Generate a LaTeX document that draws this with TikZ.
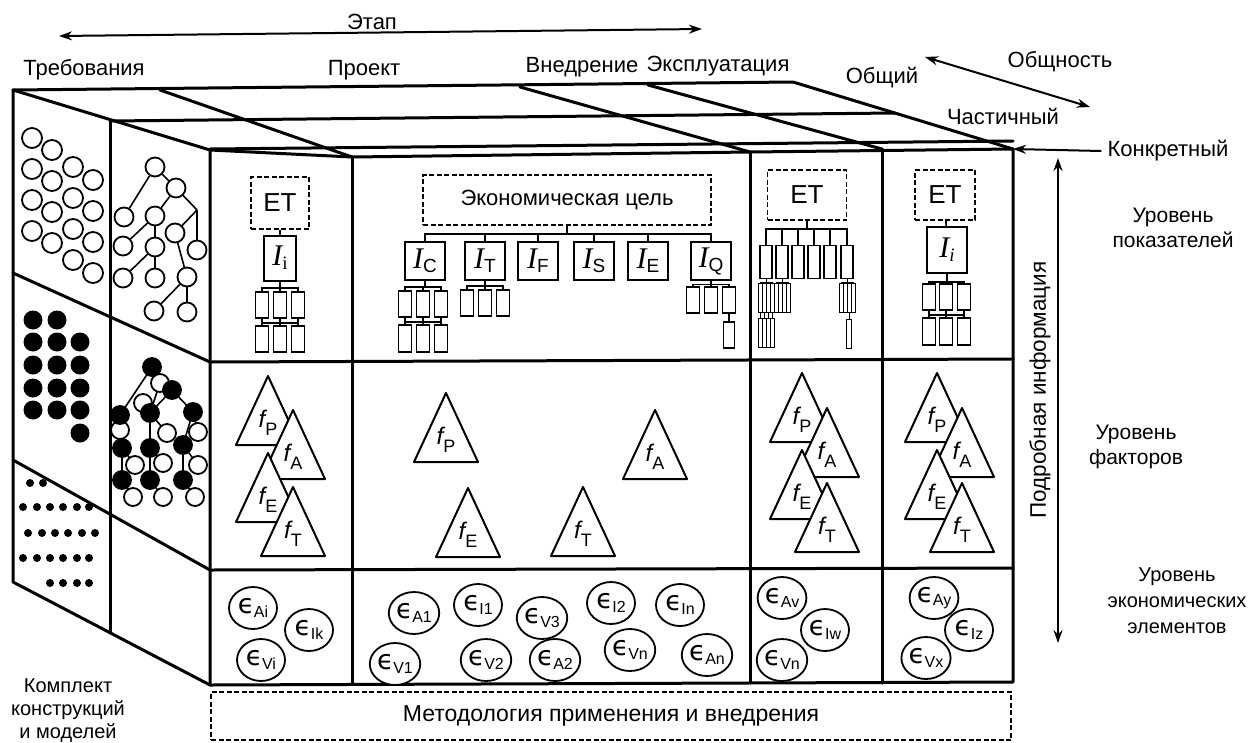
\documentclass[tikz,border=0pt]{standalone}
\usepackage{fontspec}
\setmainfont{Liberation Sans}
\newfontfamily\tms{Liberation Serif}
\newfontfamily\dvs{DejaVu Sans}
\usetikzlibrary{arrows.meta, positioning, shapes.geometric}

\newcommand{\indic}[1]{{\tms\itshape\fontsize{30}{30}\selectfont I}\raisebox{-0.75ex}{\fontsize{19}{19}\selectfont #1}}
\newcommand{\fsym}[1]{{\itshape f}\raisebox{-0.6ex}{\fontsize{18}{18}\selectfont #1}}
\newcommand{\esym}[1]{{\dvs\fontsize{27}{27}\selectfont ϵ}\kern-0.5pt\raisebox{-0.7ex}{\fontsize{16}{16}\selectfont #1}}

\begin{document}
\begin{tikzpicture}[
    x=1pt, y=-1pt,
    >={Stealth[length=13pt,width=9pt]},
    edge/.style={line width=3pt, line join=round, line cap=round},
    link/.style={line width=1.6pt},
    arr/.style={<->, line width=2pt},
    lab/.style={font=\fontsize{22}{25}\selectfont, align=center, inner sep=0pt},
    lvl/.style={lab, font=\fontsize{21}{25}\selectfont},
    dbox/.style={draw, dash pattern=on 5pt off 2.5pt, line width=1.5pt,
                 minimum height=50pt, inner sep=0pt, font=\fontsize{26}{26}\selectfont},
    ibox/.style={draw, line width=2pt, minimum width=40pt, minimum height=38pt, inner sep=0pt},
    leaf/.style={draw, line width=1.6pt, minimum width=13pt, minimum height=26pt, inner sep=0pt},
    bar/.style={draw, line width=1pt, minimum width=4pt, minimum height=29pt, inner sep=0pt},
    tri/.style={draw, fill=white, line width=2pt, line join=round},
    flab/.style={font=\fontsize{24}{24}\selectfont, inner sep=0pt},
    elem/.style={draw, fill=white, ellipse, line width=1.8pt, minimum width=48pt,
                 minimum height=42pt, inner sep=0pt},
    hole/.style={draw, fill=white, circle, line width=1.8pt, minimum size=19pt, inner sep=0pt},
    full/.style={hole, fill=black}
]
\useasboundingbox (0,0) rectangle (1249,742);

% top face
\draw[edge] (13,90) -- (793,82) -- (1013,149);
\draw[edge] (13,90) -- (210,150);
\draw[edge] (110,121) -- (895,113);
\draw[edge] (210,149) -- (1013,141);
\draw[edge] (160,90) -- (352,157);
\draw[edge] (520,87) -- (750,152);
\draw[edge] (648,85) -- (882,149);

% left face
\draw[edge] (13,90) -- (13,582) -- (210,685);
\draw[edge] (110,121) -- (110,633);
\draw[edge] (13,273) -- (210,362);
\draw[edge] (13,460) -- (210,570);

% front face
\draw[edge] (210,150) -- (352,157) -- (750,152) -- (1013,149) -- (1013,682) -- (210,685) -- cycle;
\draw[edge] (352,157) -- (352,684);
\draw[edge] (750,152) -- (750,683);
\draw[edge] (882,149) -- (882,683);
\draw[edge] (210,362) -- (1013,359);
\draw[edge] (210,570) -- (1013,568);

% requirements: circles and dots
\foreach \x/\y in {32/138, 52/150, 73/167, 93/180}
  \foreach \k in {0,...,3}
    \draw[line width=1.8pt] (\x,\y+31*\k) circle (10pt);
\foreach \x/\y in {33/320, 57/320, 33/342, 57/342, 80/342, 33/365, 57/365, 80/365,
                   33/388, 57/388, 80/388, 33/410, 57/410, 80/410, 80/433}
  \fill (\x,\y) circle (9.5pt);
\foreach \x/\y in {30/483, 43/483,
                   23/507, 37/507, 50/507, 63/507, 77/507, 89/507,
                   28/533, 42/533, 55/533, 68/533, 82/533, 95/533,
                   23/558, 37/558, 50/558, 63/558, 77/558, 89/558,
                   50/583, 63/583, 77/583, 89/583}
  \fill (\x,\y) circle (4pt);

% model tree (open)
\coordinate (tf) at (197,210);
\foreach \n/\x/\y in {ta/155/167, tb/176/188, tc/124/217, td/155/216, te/175/233,
                      tg/123/246, th/155/247, ti/197/250, tj/123/278, tk/155/278,
                      tl/187/277, tm/154/311, tn/187/312}
  \node[hole] (\n) at (\x,\y) {};
\foreach \a/\b in {ta/tc, ta/tb, tb/td, tb/tf, tf/te, tf/ti, td/tg, td/th,
                   th/tj, th/tk, te/tl, tl/tm, tl/tn}
  \draw[link] (\a) -- (\b);

% model tree (mixed)
\foreach \a/\b/\c/\d in {152/367/120/415, 152/367/172/390, 172/390/150/413, 172/390/193/412,
                         120/415/120/430, 150/413/167/433, 150/413/150/448, 193/412/198/432,
                         193/412/183/445, 120/430/122/448, 122/448/135/465, 122/448/122/480,
                         150/448/163/463, 150/448/150/480, 183/445/198/465, 183/445/183/480,
                         122/480/133/497, 150/480/163/497, 183/480/195/497, 160/383/150/413}
  \draw[link] (\a,\b) -- (\c,\d);
\foreach \n/\x/\y in {o1/160/383, o2/143/403, o3/120/430, o4/167/433, o5/198/432,
                      o6/135/465, o7/163/463, o8/198/465, o9/133/497, o10/163/497, o11/195/497}
  \node[hole, minimum size=18pt] (\n) at (\x,\y) {};
\foreach \n/\x/\y in {s0/152/367, s1/172/390, s2/120/415, s3/150/413, s4/193/412,
                      s5/122/448, s6/150/448, s7/183/445, s8/122/480, s9/150/480, s10/183/480}
  \node[full, minimum size=18pt] (\n) at (\x,\y) {};

% indicator level: first column
\node[dbox, minimum width=58pt, minimum height=52pt] (et1) at (280,203) {ET};
\node[ibox, minimum width=32pt, minimum height=45pt] (ii1) at (280,258) {\indic{\tms i}};
\draw[link] (et1) -- (ii1);
\foreach \n/\x in {a/262, b/280, c/298} {
  \node[leaf] (et1\n) at (\x,305) {};
  \node[leaf] (et1\n2) at (\x,339) {};
  \draw[link] (ii1.south) -- ++(0,6.5) -| (et1\n.north);
  \draw[link] (et1\n) -- (et1\n2);
}
\draw[link] (et1a.south) -- ++(0,4) -| (et1c2.north);

% indicator level: project
\node[dbox, minimum width=288pt, font=\fontsize{22}{22}\selectfont] (goal) at (567,200) {Экономическая цель};
\foreach \s/\x in {C/425, T/485, F/538, S/594, E/648, Q/711} {
  \node[ibox] (i\s) at (\x,261) {\indic{\s}};
  \draw[link] (goal.south) -- ++(0,8) -| (i\s.north);
}
\foreach \n/\x in {a/405, b/423, c/441} {
  \node[leaf] (iC\n) at (\x,304) {};
  \node[leaf, minimum height=27pt] (iC\n2) at (\x,338.5) {};
  \draw[link] (iC.south) -- ++(0,6) -| (iC\n.north);
  \draw[link] (iC\n) -- (iC\n2);
}
\draw[link] (iCa.south) -- ++(0,4) -| (iCc2.north);
\foreach \n/\x in {a/467, b/485, c/503} {
  \node[leaf] (iT\n) at (\x,303) {};
  \draw[link] (iT.south) -- ++(0,5) -| (iT\n.north);
}
\foreach \n/\x in {a/693, b/711, c/729} {
  \node[leaf] (iQ\n) at (\x,300) {};
  \draw[link] (iQ.south) -- ++(0,3.5) -| (iQ\n.north);
}
\node[leaf, minimum width=11pt] (iQc2) at (729,335) {};
\draw[link] (iQc) -- (iQc2);

% indicator level: implementation
\node[dbox, minimum width=79pt] (et3) at (807,195) {ET};
\foreach \n/\x in {1/766, 2/782, 3/798, 4/814, 5/830, 6/847} {
  \node[leaf, minimum width=12pt, minimum height=33pt] (rl\n) at (\x,262) {};
  \draw[link] (et3.south) -- ++(0,8) -| (rl\n.north);
}
\foreach \p/\x in {1/766, 2/782, 6/847}
  \foreach \k in {0,...,3} {
    \node[bar] (rb\p\k) at (\x-6+4*\k,298) {};
    \draw[line width=1pt] (rl\p.south) -- ++(0,3) -| (rb\p\k.north);
  }
\foreach \k in {0,...,3} {
  \node[bar] (rc\k) at (760+4*\k,333) {};
  \draw[line width=1pt] (rb1\k) -- (rc\k);
}
\node[bar, minimum width=5pt] (rd) at (849,334) {};
\draw[line width=1pt] (rb62) -- (rd);

% indicator level: operation
\node[dbox, minimum width=60pt] (et4) at (945,195) {ET};
\node[ibox, minimum height=46pt] (ii4) at (947,250) {\indic{\tms\itshape i}};
\draw[link] (et4) -- (ii4);
\foreach \n/\x in {a/929, b/946, c/964} {
  \node[leaf] (et4\n) at (\x,297) {};
  \node[leaf, minimum height=27pt] (et4\n2) at (\x,331.5) {};
  \draw[link] (ii4.south) -- ++(0,8) -| (et4\n.north);
  \draw[link] (et4\n) -- (et4\n2);
}
\draw[link] (et4a.south) -- ++(0,4) -| (et4c2.north);

% factor level
\foreach \s/\x/\y in {P/268/376, A/293/410, E/268/453, T/293/487,
                      P/446/393, A/655/410, E/468/488, T/583/487,
                      P/802/373, A/827/408, E/802/450, T/827/483,
                      P/937/373, A/962/408, E/937/450, T/962/483} {
  \draw[tri] (\x,\y) -- ++(32,69) -- ++(-64,0) -- cycle;
  \node[flab] (f\s\x) at (\x,\y+47) {\fsym{\s}};
}

% element level
\foreach \n/\s/\x/\y in {1/Ai/253/608, 2/Ik/309/630, 3/Vi/261/660,
                         4/A1/414/613, 5/I1/478/605, 6/V3/542/618, 7/I2/611/603, 8/In/680/605,
                         9/V1/395/664, 10/V2/486/660, 11/A2/555/660, 12/Vn/630/650, 13/An/707/655,
                         14/Av/782/598, 15/Vn/782/660, 16/Iw/825/630,
                         17/Ay/934/598, 18/Vx/926/658, 19/Iz/969/630}
  \node[elem] (el\n) at (\x,\y) {\esym{\s}};

% method
\node[dbox, minimum width=800pt, minimum height=48pt, font=\fontsize{23}{23}\selectfont] (method) at (611,716) {Методология применения и внедрения};

% labels
\node[lab] (etap) at (372,22) {Этап};
\coordinate (etapL) at (59,36);
\coordinate (etapR) at (702,29);
\draw[arr] (etapL) -- (etapR);
\node[lab] (req) at (84,70) {Требования};
\node[lab] (proj) at (364,70) {Проект};
\node[lab] (impl) at (582,67) {Внедрение};
\node[lab] (oper) at (718,66) {Эксплуатация};
\node[lab] (gen) at (882,78) {Общий};
\node[lab] (comm) at (1060,62) {Общность};
\coordinate (commL) at (925,57);
\coordinate (commR) at (1090,107);
\draw[arr] (commL) -- (commR);
\node[lab] (part) at (1003,116) {Частичный};
\node[lab] (konk) at (1168,151) {Конкретный};
\coordinate (corner) at (1013,149);
\draw[->, line width=2pt] (konk.west) ++(-6,0) -- (corner);
\coordinate (detT) at (1058,158);
\coordinate (detB) at (1058,643);
\draw[arr] (detT) -- (detB);
\node[lab, rotate=90, font=\fontsize{22.5}{25}\selectfont] (detail) at (1040,390) {Подробная информация};
\node[lvl] (lvl1) at (1173,228) {Уровень\\показателей};
\node[lvl] (lvl2) at (1136,447) {Уровень\\факторов};
\node[lvl, font=\fontsize{20}{26}\selectfont] (lvl3) at (1177,601) {Уровень\\экономических\\элементов};
\node[lab, font=\fontsize{20}{23}\selectfont] (kit) at (68,711) {Комплект\\конструкций\\и моделей};
\end{tikzpicture}
\end{document}
